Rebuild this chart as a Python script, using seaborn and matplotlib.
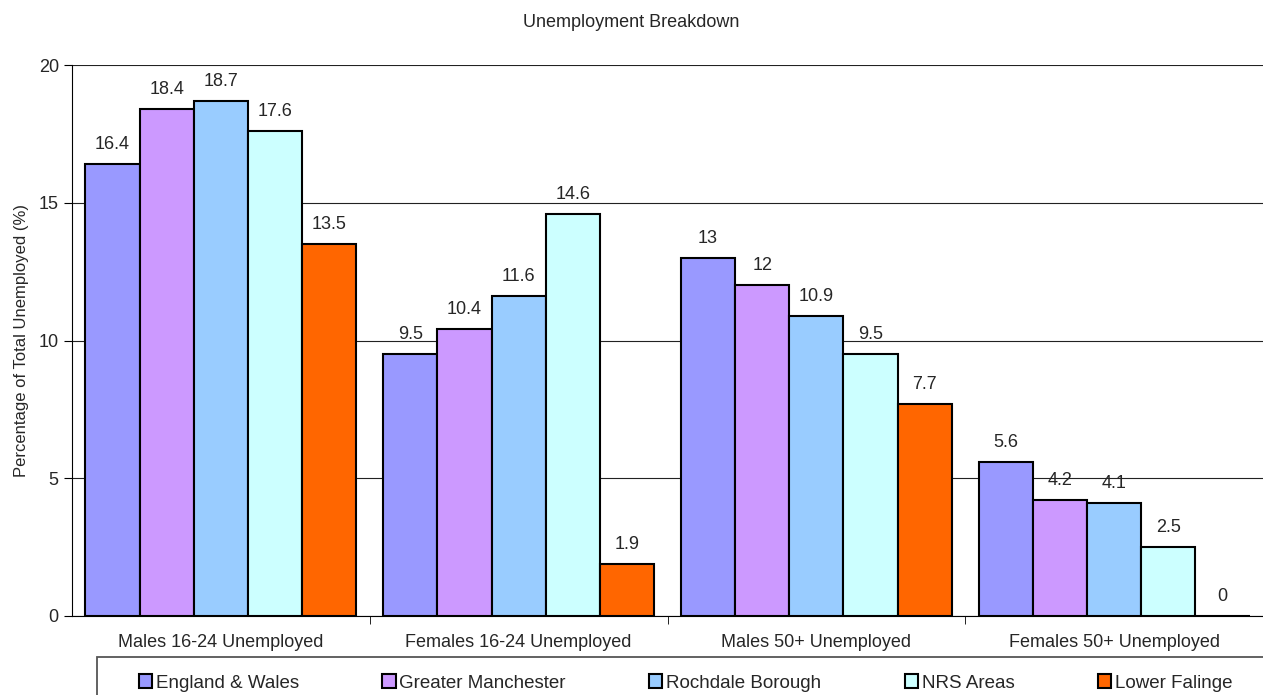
import matplotlib
matplotlib.use("Agg")
import matplotlib.pyplot as plt
from matplotlib.patches import Rectangle
import seaborn as sns
import pandas as pd

categories = ["Males 16-24 Unemployed", "Females 16-24 Unemployed",
              "Males 50+ Unemployed", "Females 50+ Unemployed"]
series = ["England & Wales", "Greater Manchester", "Rochdale Borough",
          "NRS Areas", "Lower Falinge"]
england_wales = [16.4, 9.5, 13, 5.6]
greater_manchester = [18.4, 10.4, 12, 4.2]
rochdale = [18.7, 11.6, 10.9, 4.1]
nrs_areas = [17.6, 14.6, 9.5, 2.5]
lower_falinge = [13.5, 1.9, 7.7, 0]
colors = ["#9999FF", "#CC99FF", "#99CCFF", "#CCFFFF", "#FF6600"]

values = [england_wales, greater_manchester, rochdale, nrs_areas, lower_falinge]
rows = []
for name, vals in zip(series, values):
    for cat, v in zip(categories, vals):
        rows.append({"category": cat, "series": name, "value": v})
df = pd.DataFrame(rows)

sns.set_style("white")
plt.rcParams["font.family"] = ["Liberation Sans", "DejaVu Sans"]

W, H = 1263, 695
fig = plt.figure(figsize=(W / 100, H / 100), dpi=100)
ax = fig.add_axes([72 / W, 1 - 616 / H, 1 - 72 / W, (616 - 65) / H])

sns.barplot(data=df, x="category", y="value", hue="series", order=categories,
            hue_order=series, palette=colors, edgecolor="black", linewidth=1.5,
            width=0.91, saturation=1, ax=ax, legend=True)

for cont in ax.containers:
    ax.bar_label(cont, fmt="%g", padding=8, fontsize=13)

ax.set_ylim(0, 20)
ax.set_yticks([0, 5, 10, 15, 20])
ax.set_xlim(-0.5, 3.5)
ax.yaxis.grid(True, color="#222222", linewidth=0.8)
ax.set_axisbelow(True)
for s in ["top", "right"]:
    ax.spines[s].set_visible(False)
ax.spines["left"].set_color("black")
ax.spines["bottom"].set_color("black")
ax.tick_params(axis="y", left=True, length=6, labelsize=13, color="black")
ax.tick_params(axis="x", which="major", length=0, labelsize=13, pad=13)
ax.set_xticks([0.5, 1.5, 2.5], minor=True)
ax.tick_params(axis="x", which="minor", bottom=True, length=6, color="black")
ax.set_xlabel("")
ax.set_ylabel("Percentage of Total Unemployed (%)", fontsize=12, labelpad=7)
fig.suptitle("Unemployment Breakdown", y=0.98, fontsize=13)

handles, labels = ax.get_legend_handles_labels()
ax.get_legend().remove()
fig.legend(handles, labels, loc="center left", ncol=5,
           bbox_to_anchor=(139 / W, 1 - 683 / H),
           fontsize=13.5, handlelength=0.7, handleheight=0.7,
           handletextpad=0.2, columnspacing=4.45, frameon=False,
           borderaxespad=0, borderpad=0)
fig.patches.append(Rectangle((97 / W, -0.05), 1.1, 0.05 + 1 - 657 / H,
                             transform=fig.transFigure, fill=False,
                             edgecolor="#555555", linewidth=1.3))

fig.savefig("out.png", dpi=100)
